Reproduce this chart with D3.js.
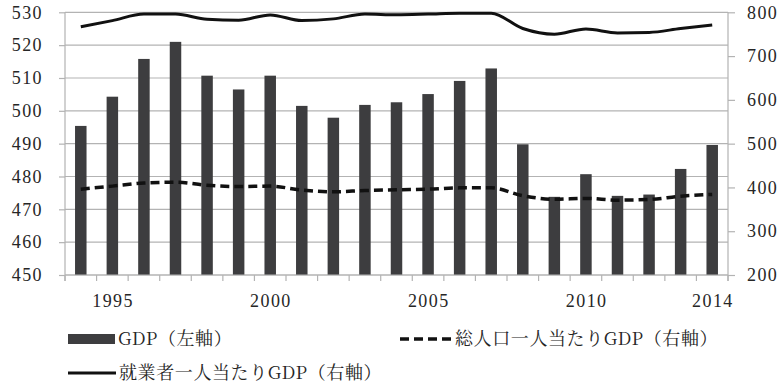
<!DOCTYPE html>
<html lang="ja">
<head>
    <meta charset="UTF-8">
    <title>GDP chart</title>
    <script src="https://d3js.org/d3.v7.min.js"></script>
    <style>
        body{ margin:0; background:#fff; }
    </style>
</head>
<body>
    <svg id='chart' width="780" height="387"></svg>

    <script>
        // data
        let years = d3.range(1994, 2015)
        let gdp = [495.4, 504.3, 515.8, 521.0, 510.7, 506.5, 510.7, 501.5, 497.9, 501.8, 502.6,
                   505.1, 509.1, 512.9, 489.8, 473.8, 480.7, 474.1, 474.5, 482.3, 489.6]
        let perCapita = [396, 403, 410, 412, 405, 402, 403, 394, 390, 393, 394.5,
                         396, 399, 399, 381, 373, 375, 371, 372.5, 380, 384]
        let perWorker = [767, 781, 796, 796, 784, 782, 794, 781, 785, 796, 794.5,
                         796, 798, 798, 763, 750, 762, 753, 754, 763, 771]
        let yearLabels = [1995, 2000, 2005, 2010, 2014]
        let leftTicks = d3.range(450, 531, 10)
        let rightTicks = d3.range(200, 801, 100)

        let svg = d3.select("#chart")
        let pLeft = 65, pRight = 728, pTop = 12.3, pBottom = 275
        let numFont = '"Liberation Serif", serif'
        let jaFont = '"Noto Serif CJK JP", "Liberation Serif", serif'

        let x = d3.scaleBand()
            .domain(years)
            .range([pLeft, pRight])
            .paddingInner(0.636)
            .paddingOuter(0.318)
        let yL = d3.scaleLinear().domain([450, 530]).range([pBottom, pTop])
        let yR = d3.scaleLinear().domain([200, 800]).range([pBottom, pTop])
        let gridColor = "#b3b3b3"

        // gridlines
        svg.append("g")
            .selectAll("line")
            .data(leftTicks)
            .join("line")
            .attr("x1", pLeft).attr("x2", pRight)
            .attr("y1", d => yL(d)).attr("y2", d => yL(d))
            .attr("stroke", gridColor)
            .attr("stroke-width", 1.2)

        // left axis
        let axL = svg.append("g")
            .attr("transform", `translate(${pLeft},0)`)
            .call(d3.axisLeft(yL).tickValues(leftTicks).tickSize(6).tickPadding(16))
        // right axis
        let axR = svg.append("g")
            .attr("transform", `translate(${pRight},0)`)
            .call(d3.axisRight(yR).tickValues(rightTicks).tickSize(7).tickPadding(12))
        svg.append("line").attr("x1", pLeft).attr("x2", pLeft).attr("y1", pTop).attr("y2", pBottom + 6)
            .attr("stroke", gridColor).attr("stroke-width", 1.2)
        svg.append("line").attr("x1", pRight).attr("x2", pRight).attr("y1", pTop).attr("y2", pBottom + 6)
            .attr("stroke", gridColor).attr("stroke-width", 1.2)

        // bars
        svg.append("g")
            .selectAll("rect")
            .data(years)
            .join("rect")
            .attr("x", (d) => x(d))
            .attr("width", x.bandwidth())
            .attr("y", (d, i) => yL(gdp[i]))
            .attr("height", (d, i) => pBottom - yL(gdp[i]))
            .attr("fill", "#3d3d3f")

        // bottom axis: boundary ticks + labels
        let step = x.step()
        let x0 = x(years[0]) - x.paddingOuter() * step
        svg.append("g")
            .selectAll("line")
            .data(d3.range(years.length + 1))
            .join("line")
            .attr("x1", i => x0 + i * step).attr("x2", i => x0 + i * step)
            .attr("y1", pBottom).attr("y2", pBottom + 6)
            .attr("stroke", gridColor).attr("stroke-width", 1.2)
        svg.append("line").attr("x1", pLeft).attr("x2", pRight).attr("y1", pBottom).attr("y2", pBottom)
            .attr("stroke", gridColor).attr("stroke-width", 1.2)
        let axB = svg.append("g")
            .attr("transform", `translate(0.7,${pBottom})`)
            .call(d3.axisBottom(x).tickValues(yearLabels).tickSize(0).tickPadding(19))

        ;[axL, axR, axB].forEach(function(a){
            a.select(".domain").remove()
            a.selectAll(".tick line").attr("stroke", gridColor).attr("stroke-width", 1.2)
            a.selectAll(".tick text")
                .style("font-family", numFont)
                .style("font-size", "18px")
                .style("letter-spacing", "1.4px")
                .attr("fill", "#262626")
        })

        // lines
        let cx = d => x(d) + x.bandwidth() / 2
        let lineR = d3.line().curve(d3.curveMonotoneX)
        svg.append("path")
            .attr("d", lineR(years.map((d, i) => [cx(d), yR(perCapita[i])])))
            .attr("fill", "none")
            .attr("stroke", "#111")
            .attr("stroke-width", 3.5)
            .attr("stroke-dasharray", "9,5")
        svg.append("path")
            .attr("d", lineR(years.map((d, i) => [cx(d), yR(perWorker[i])])))
            .attr("fill", "none")
            .attr("stroke", "#111")
            .attr("stroke-width", 3)

        // legend
        let lg = svg.append("g")
        lg.append("rect").attr("x", 68).attr("y", 334).attr("width", 47).attr("height", 10).attr("fill", "#3d3d3f")
        lg.append("text").attr("x", 118).attr("y", 339).text("GDP（左軸）")
        lg.append("line").attr("x1", 400).attr("x2", 451).attr("y1", 339).attr("y2", 339)
            .attr("stroke", "#111").attr("stroke-width", 3.5).attr("stroke-dasharray", "9,5")
        lg.append("text").attr("x", 455).attr("y", 339).text("総人口一人当たりGDP（右軸）")
        lg.append("line").attr("x1", 68).attr("x2", 116).attr("y1", 373).attr("y2", 373)
            .attr("stroke", "#111").attr("stroke-width", 3)
        lg.append("text").attr("x", 119).attr("y", 373).text("就業者一人当たりGDP（右軸）")
        lg.selectAll("text")
            .attr("dy", "0.36em")
            .attr("fill", "#262626")
            .style("font-family", jaFont)
            .style("font-size", "18px")
            .style("letter-spacing", "0.6px")
    </script>
</body>
</html>
